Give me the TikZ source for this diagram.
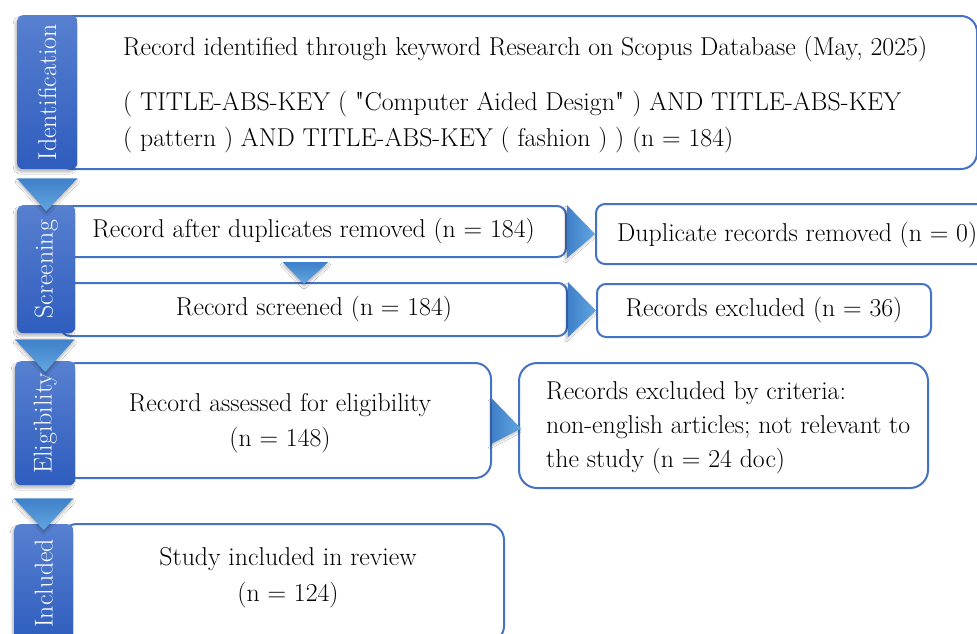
\documentclass[tikz,border=0pt]{standalone}
\usepackage{graphicx}
\usetikzlibrary{calc,shadows.blur}
\definecolor{prline}{HTML}{4472C4}
\definecolor{bartop}{HTML}{5780D0}
\definecolor{barbot}{HTML}{2F5DBE}
\definecolor{tridark}{HTML}{3F80C9}
\definecolor{trilite}{HTML}{62A6E0}
\newcommand{\prfont}{\fontsize{25.8}{36}\selectfont}
% straight double quote, without the tex-text mapping
\font\plainquote="[lmroman10-regular]" at 25.8pt
\newcommand{\sq}{{\plainquote"}}
\tikzset{
  stagebar/.style={rounded corners=6pt, top color=bartop, bottom color=barbot,
                   inner sep=0pt, text=white, font=\prfont,
                   blur shadow={shadow xshift=-2pt, shadow yshift=-3pt,
                                shadow blur radius=2pt, shadow opacity=25}},
  recbox/.style={draw=prline, line width=2pt, fill=white, rounded corners=9pt,
                 inner sep=0pt, align=center, font=\prfont},
  bigbox/.style={recbox, rounded corners=16pt},
  rectext/.style={inner sep=0pt, align=left, font=\prfont},
  downtri/.style={top color=tridark, bottom color=trilite,
                  blur shadow={shadow xshift=0pt, shadow yshift=-3pt,
                               shadow blur radius=2pt, shadow opacity=25}},
  righttri/.style={left color=tridark, right color=trilite,
                   blur shadow={shadow xshift=-2pt, shadow yshift=-3pt,
                                shadow blur radius=2pt, shadow opacity=25}}}

\begin{document}
\begin{tikzpicture}[x=1pt, y=1pt]
    \useasboundingbox (0,0) rectangle (977,-633);
    \fill[white] (0,0) rectangle (977,-633);
    \clip (0,0) rectangle (977,-633);
    % record boxes
    \node[bigbox, anchor=north west, minimum width=921pt, minimum height=153pt] (idbox) at (55,-15) {};
    \node[rectext, anchor=base west] (idtext) at (123,-146)
      {Record identified through keyword Research on Scopus Database (May, 2025)\\[19pt]
       ( TITLE-ABS-KEY ( \sq Computer Aided Design\sq\ ) AND TITLE-ABS-KEY\\
       ( pattern ) AND TITLE-ABS-KEY ( fashion ) ) (n = 184)};
    \node[recbox, anchor=north west, minimum width=505pt, minimum height=51pt] (dupl) at (60,-205)
      {Record after duplicates removed (n = 184)};
    \node[recbox, anchor=north west, minimum width=506pt, minimum height=53pt] (scr) at (60,-282)
      {Record screened (n = 184)};
    \node[recbox, anchor=north west, minimum width=405pt, minimum height=60pt] (duprm) at (595,-203) {};
    \node[rectext, anchor=base west] (duprmtext) at (617,-241) {Duplicate records removed (n = 0)};
    \node[recbox, anchor=north west, minimum width=334pt, minimum height=53pt] (excl) at (596,-283)
      {Records excluded (n = 36)};
    \node[bigbox, anchor=north west, minimum width=430pt, minimum height=115pt] (elig) at (60,-362) {};
    \node[rectext, align=center, font=\fontsize{25.8}{35}\selectfont] (eligtext) at (280,-423)
      {Record assessed for eligibility\\(n = 148)};
    \node[bigbox, rounded corners=18pt, anchor=north west, minimum width=409pt, minimum height=125pt] (crit) at (518,-362) {};
    \node[rectext, anchor=base west, font=\fontsize{25.8}{34}\selectfont] (crittext) at (546,-467)
      {Records excluded by criteria:\\non-english articles; not relevant to\\the study (n = 24 doc)};
    \node[bigbox, anchor=north west, minimum width=443pt, minimum height=118pt] (incl) at (60,-523) {};
    \node[rectext, align=center] (incltext) at (288,-578) {Study included in review\\(n = 124)};
    % stage bars
    \node[stagebar, anchor=north west, minimum width=60pt, minimum height=154pt] (idbar) at (17,-15)
      {\rotatebox{90}{Identification}};
    \node[stagebar, anchor=north west, minimum width=58pt, minimum height=128pt] (scbar) at (17,-205)
      {\rotatebox{90}{Screening}};
    \node[stagebar, anchor=north west, minimum width=60pt, minimum height=124pt] (elbar) at (15,-361)
      {\rotatebox{90}{Eligibility}};
    \node[stagebar, anchor=north west, minimum width=59pt, minimum height=118pt] (inbar) at (14,-524)
      {\rotatebox{90}{Included}};
    % arrows between stages
    \path[downtri] ($(idbar.south west)+(0,-9)$) -- ($(idbar.south east)+(0,-9)$) -- ($(scbar.north)+(0,-6)$) -- cycle;
    \path[downtri] ($(scbar.south west)+(-2,-6)$) -- ($(scbar.south east)+(-1,-6)$) -- ($(elbar.north)+(0,-11)$) -- cycle;
    \path[downtri] ($(elbar.south west)+(-1,-13)$) -- ($(elbar.south east)+(-2,-13)$) -- ($(inbar.north)+(0,-6)$) -- cycle;
    \path[downtri] ($(dupl.south)+(-31,-4)$) -- ($(dupl.south)+(15,-4)$) -- ($(scr.north)+(-10,-2)$) -- cycle;
    \path[righttri] (dupl.north east) -- (dupl.south east) -- (duprm.west) -- cycle;
    \path[righttri] (scr.north east) -- (scr.south east) -- (excl.west) -- cycle;
    \path[righttri] ($(elig.east)+(0,22)$) -- ($(elig.east)+(0,-23)$) -- ($(crit.west)+(3,-3)$) -- cycle;
\end{tikzpicture}
\end{document}
